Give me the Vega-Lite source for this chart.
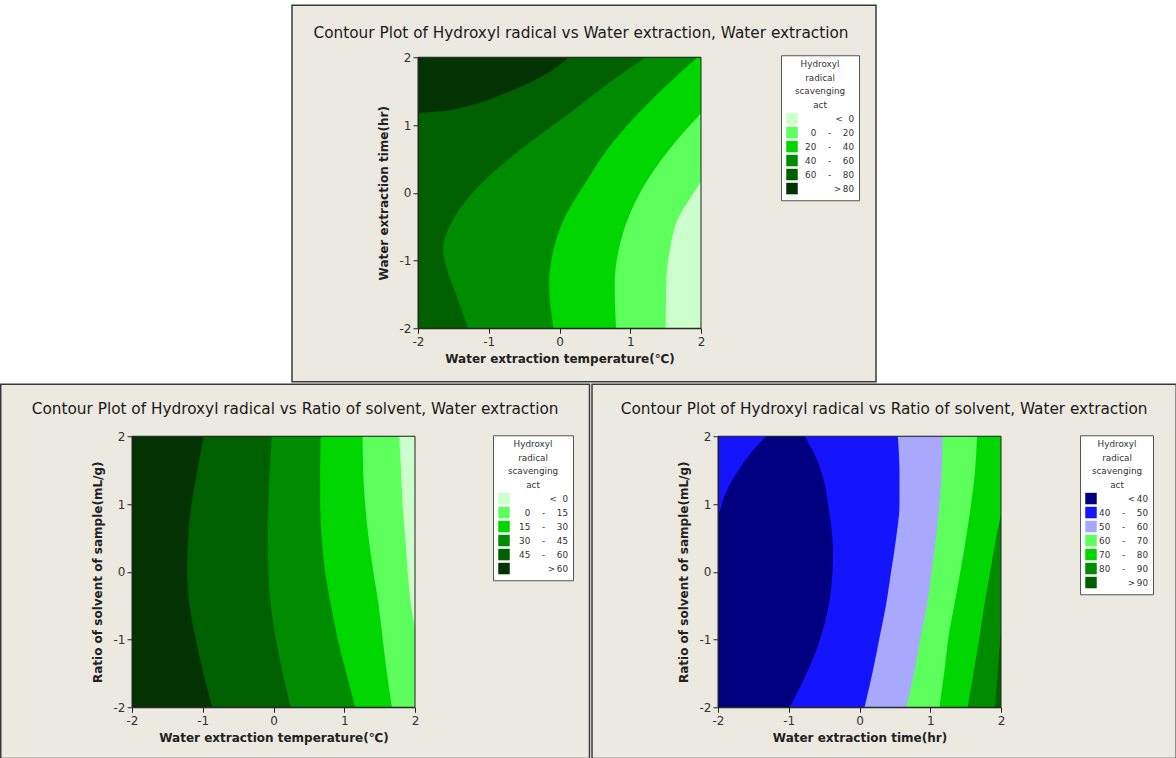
{
  "$schema": "https://vega.github.io/schema/vega-lite/v6.json",
  "background": "white",
  "padding": {"left": 0, "top": 4.25, "right": 0, "bottom": 0},
  "spacing": 0,
  "bounds": "full",
  "resolve": {"scale": {"color": "independent", "x": "independent", "y": "independent"}, "legend": {"color": "independent"}},
  "datasets": {
    "top": [
      {"lvl": ">80", "y": -2, "x": -2, "x2": 2}, {"lvl": ">80", "y": 2, "x": -2, "x2": 2},
      {"lvl": "60-80", "y": -2, "x": -2, "x2": 2}, {"lvl": "60-80", "y": 1.17, "x": -2, "x2": 2}, {"lvl": "60-80", "y": 1.198, "x": -1.716, "x2": 2}, {"lvl": "60-80", "y": 1.296, "x": -1.244, "x2": 2}, {"lvl": "60-80", "y": 1.469, "x": -0.771, "x2": 2}, {"lvl": "60-80", "y": 1.69, "x": -0.298, "x2": 2}, {"lvl": "60-80", "y": 1.838, "x": -0.061, "x2": 2}, {"lvl": "60-80", "y": 2, "x": 0.128, "x2": 2},
      {"lvl": "40-60", "y": -2, "x": -1.29, "x2": 2}, {"lvl": "40-60", "y": -1.5, "x": -1.46, "x2": 2}, {"lvl": "40-60", "y": -1.1, "x": -1.6, "x2": 2}, {"lvl": "40-60", "y": -0.844, "x": -1.645, "x2": 2}, {"lvl": "40-60", "y": -0.352, "x": -1.48, "x2": 2}, {"lvl": "40-60", "y": 0.14, "x": -1.1, "x2": 2}, {"lvl": "40-60", "y": 0.632, "x": -0.558, "x2": 2}, {"lvl": "40-60", "y": 1.124, "x": 0.08, "x2": 2}, {"lvl": "40-60", "y": 1.616, "x": 0.695, "x2": 2}, {"lvl": "40-60", "y": 2, "x": 1.215, "x2": 2},
      {"lvl": "20-40", "y": -2, "x": -0.085, "x2": 2}, {"lvl": "20-40", "y": -1.336, "x": -0.147, "x2": 2}, {"lvl": "20-40", "y": -0.844, "x": -0.085, "x2": 2}, {"lvl": "20-40", "y": -0.352, "x": 0.08, "x2": 2}, {"lvl": "20-40", "y": 0.14, "x": 0.364, "x2": 2}, {"lvl": "20-40", "y": 0.632, "x": 0.671, "x2": 2}, {"lvl": "20-40", "y": 1.124, "x": 1.073, "x2": 2}, {"lvl": "20-40", "y": 1.616, "x": 1.546, "x2": 2}, {"lvl": "20-40", "y": 2, "x": 1.95, "x2": 2},
      {"lvl": "0-20", "y": -2, "x": 0.799, "x2": 2}, {"lvl": "0-20", "y": -1.336, "x": 0.78, "x2": 2}, {"lvl": "0-20", "y": -0.844, "x": 0.837, "x2": 2}, {"lvl": "0-20", "y": -0.352, "x": 0.979, "x2": 2}, {"lvl": "0-20", "y": 0.14, "x": 1.215, "x2": 2}, {"lvl": "0-20", "y": 0.632, "x": 1.546, "x2": 2}, {"lvl": "0-20", "y": 1.173, "x": 2, "x2": 2},
      {"lvl": "<0", "y": -2, "x": 1.5, "x2": 2}, {"lvl": "<0", "y": -1.336, "x": 1.508, "x2": 2}, {"lvl": "<0", "y": -0.844, "x": 1.56, "x2": 2}, {"lvl": "<0", "y": -0.352, "x": 1.688, "x2": 2}, {"lvl": "<0", "y": -0.106, "x": 1.83, "x2": 2}, {"lvl": "<0", "y": 0.165, "x": 2, "x2": 2}
    ],
    "bl": [
      {"lvl": ">60", "y": -2, "x": -2, "x2": 2}, {"lvl": ">60", "y": 2, "x": -2, "x2": 2},
      {"lvl": "45-60", "y": 2, "x": -0.985, "x2": 2}, {"lvl": "45-60", "y": 1.483, "x": -1.079, "x2": 2}, {"lvl": "45-60", "y": 0.991, "x": -1.159, "x2": 2}, {"lvl": "45-60", "y": 0.499, "x": -1.207, "x2": 2}, {"lvl": "45-60", "y": 0.007, "x": -1.221, "x2": 2}, {"lvl": "45-60", "y": -0.485, "x": -1.188, "x2": 2}, {"lvl": "45-60", "y": -0.977, "x": -1.103, "x2": 2}, {"lvl": "45-60", "y": -1.469, "x": -0.999, "x2": 2}, {"lvl": "45-60", "y": -2, "x": -0.867, "x2": 2},
      {"lvl": "30-45", "y": 2, "x": -0.026, "x2": 2}, {"lvl": "30-45", "y": 1.483, "x": -0.054, "x2": 2}, {"lvl": "30-45", "y": 0.991, "x": -0.073, "x2": 2}, {"lvl": "30-45", "y": 0.499, "x": -0.083, "x2": 2}, {"lvl": "30-45", "y": 0.007, "x": -0.073, "x2": 2}, {"lvl": "30-45", "y": -0.485, "x": -0.04, "x2": 2}, {"lvl": "30-45", "y": -0.977, "x": 0.031, "x2": 2}, {"lvl": "30-45", "y": -1.469, "x": 0.125, "x2": 2}, {"lvl": "30-45", "y": -2, "x": 0.243, "x2": 2},
      {"lvl": "15-30", "y": 2, "x": 0.668, "x2": 2}, {"lvl": "15-30", "y": 1.483, "x": 0.659, "x2": 2}, {"lvl": "15-30", "y": 0.991, "x": 0.659, "x2": 2}, {"lvl": "15-30", "y": 0.499, "x": 0.682, "x2": 2}, {"lvl": "15-30", "y": 0.007, "x": 0.73, "x2": 2}, {"lvl": "15-30", "y": -0.485, "x": 0.81, "x2": 2}, {"lvl": "15-30", "y": -0.977, "x": 0.904, "x2": 2}, {"lvl": "15-30", "y": -1.469, "x": 1.022, "x2": 2}, {"lvl": "15-30", "y": -2, "x": 1.155, "x2": 2},
      {"lvl": "0-15", "y": 2, "x": 1.259, "x2": 2}, {"lvl": "0-15", "y": 1.483, "x": 1.268, "x2": 2}, {"lvl": "0-15", "y": 0.991, "x": 1.296, "x2": 2}, {"lvl": "0-15", "y": 0.499, "x": 1.344, "x2": 2}, {"lvl": "0-15", "y": 0.007, "x": 1.41, "x2": 2}, {"lvl": "0-15", "y": -0.485, "x": 1.485, "x2": 2}, {"lvl": "0-15", "y": -0.977, "x": 1.542, "x2": 2}, {"lvl": "0-15", "y": -1.469, "x": 1.599, "x2": 2}, {"lvl": "0-15", "y": -2, "x": 1.674, "x2": 2},
      {"lvl": "<0", "y": 2, "x": 1.778, "x2": 2}, {"lvl": "<0", "y": 1.483, "x": 1.802, "x2": 2}, {"lvl": "<0", "y": 0.991, "x": 1.825, "x2": 2}, {"lvl": "<0", "y": 0.499, "x": 1.863, "x2": 2}, {"lvl": "<0", "y": 0.007, "x": 1.896, "x2": 2}, {"lvl": "<0", "y": -0.485, "x": 1.943, "x2": 2}, {"lvl": "<0", "y": -0.829, "x": 2, "x2": 2}
    ],
    "br": [
      {"lvl": "40-50", "y": -2, "x": -2, "x2": 2}, {"lvl": "40-50", "y": 2, "x": -2, "x2": 2},
      {"lvl": "<40", "y": -2, "x": -2, "x2": -0.988}, {"lvl": "<40", "y": -1.617, "x": -2, "x2": -0.8}, {"lvl": "<40", "y": -1.223, "x": -2, "x2": -0.635}, {"lvl": "<40", "y": -0.731, "x": -2, "x2": -0.485}, {"lvl": "<40", "y": -0.239, "x": -2, "x2": -0.4}, {"lvl": "<40", "y": 0.253, "x": -2, "x2": -0.376}, {"lvl": "<40", "y": 0.745, "x": -2, "x2": -0.409}, {"lvl": "<40", "y": 0.795, "x": -2, "x2": -0.416}, {"lvl": "<40", "y": 0.942, "x": -1.962, "x2": -0.437}, {"lvl": "<40", "y": 1.237, "x": -1.859, "x2": -0.48}, {"lvl": "<40", "y": 1.483, "x": -1.718, "x2": -0.541}, {"lvl": "<40", "y": 1.729, "x": -1.553, "x2": -0.635}, {"lvl": "<40", "y": 2, "x": -1.318, "x2": -0.776},
      {"lvl": "50-60", "y": 2, "x": 0.541, "x2": 2}, {"lvl": "50-60", "y": 1.483, "x": 0.565, "x2": 2}, {"lvl": "50-60", "y": 0.991, "x": 0.565, "x2": 2}, {"lvl": "50-60", "y": 0.499, "x": 0.518, "x2": 2}, {"lvl": "50-60", "y": 0.007, "x": 0.447, "x2": 2}, {"lvl": "50-60", "y": -0.485, "x": 0.376, "x2": 2}, {"lvl": "50-60", "y": -0.977, "x": 0.282, "x2": 2}, {"lvl": "50-60", "y": -1.469, "x": 0.188, "x2": 2}, {"lvl": "50-60", "y": -2, "x": 0.071, "x2": 2},
      {"lvl": "60-70", "y": 2, "x": 1.176, "x2": 2}, {"lvl": "60-70", "y": 1.483, "x": 1.162, "x2": 2}, {"lvl": "60-70", "y": 0.991, "x": 1.129, "x2": 2}, {"lvl": "60-70", "y": 0.499, "x": 1.082, "x2": 2}, {"lvl": "60-70", "y": 0.007, "x": 1.021, "x2": 2}, {"lvl": "60-70", "y": -0.485, "x": 0.955, "x2": 2}, {"lvl": "60-70", "y": -0.977, "x": 0.861, "x2": 2}, {"lvl": "60-70", "y": -1.469, "x": 0.776, "x2": 2}, {"lvl": "60-70", "y": -2, "x": 0.659, "x2": 2},
      {"lvl": "70-80", "y": 2, "x": 1.661, "x2": 2}, {"lvl": "70-80", "y": 1.483, "x": 1.633, "x2": 2}, {"lvl": "70-80", "y": 0.991, "x": 1.576, "x2": 2}, {"lvl": "70-80", "y": 0.499, "x": 1.506, "x2": 2}, {"lvl": "70-80", "y": 0.007, "x": 1.426, "x2": 2}, {"lvl": "70-80", "y": -0.485, "x": 1.341, "x2": 2}, {"lvl": "70-80", "y": -0.977, "x": 1.256, "x2": 2}, {"lvl": "70-80", "y": -1.469, "x": 1.2, "x2": 2}, {"lvl": "70-80", "y": -2, "x": 1.129, "x2": 2},
      {"lvl": "80-90", "y": 0.85, "x": 2, "x2": 2}, {"lvl": "80-90", "y": 0.499, "x": 1.929, "x2": 2}, {"lvl": "80-90", "y": 0.007, "x": 1.849, "x2": 2}, {"lvl": "80-90", "y": -0.485, "x": 1.765, "x2": 2}, {"lvl": "80-90", "y": -0.977, "x": 1.694, "x2": 2}, {"lvl": "80-90", "y": -1.469, "x": 1.614, "x2": 2}, {"lvl": "80-90", "y": -2, "x": 1.529, "x2": 2},
      {"lvl": ">90", "y": -0.83, "x": 2, "x2": 2}, {"lvl": ">90", "y": -1.223, "x": 1.972, "x2": 2}, {"lvl": ">90", "y": -1.617, "x": 1.944, "x2": 2}, {"lvl": ">90", "y": -2, "x": 1.915, "x2": 2}
    ]
  },
  "vconcat": [
    {
      "spacing": 0,
      "bounds": "full",
      "resolve": {"scale": {"color": "independent", "x": "independent", "y": "independent"}, "legend": {"color": "independent"}},
      "hconcat": [
        {"width": 159, "height": 1, "data": {"values": []}, "mark": {"type": "point", "opacity": 0}},
        {
          "width": 283, "height": 271,
          "title": {"text": "Contour Plot of Hydroxyl radical vs Water extraction, Water extraction", "offset": -36.75, "dx": -3},
          "layer": [
            {"data": {"values": [{}]}, "mark": {"type": "rect", "fill": "#ECE9E1", "stroke": "#3a3a3a", "strokeWidth": 1.5},
             "encoding": {
               "x": {"datum": -3.7809, "type": "quantitative", "scale": {"domain": [-2, 2], "nice": false, "zero": false}, "axis": {"title": "Water extraction temperature(℃)", "values": [-2, -1, 0, 1, 2], "zindex": 1}},
               "x2": {"datum": 4.4735},
               "y": {"datum": 2.7675, "type": "quantitative", "scale": {"domain": [-2, 2], "nice": false, "zero": false}, "axis": {"title": "Water extraction time(hr)", "values": [-2, -1, 0, 1, 2], "zindex": 1}},
               "y2": {"datum": -2.7897}}},
            {"data": {"name": "top"}, "mark": {"type": "area", "orient": "horizontal", "interpolate": "monotone", "opacity": 1},
             "encoding": {
               "y": {"field": "y", "type": "quantitative", "scale": {"domain": [-2, 2], "nice": false, "zero": false}, "axis": {"title": "Water extraction time(hr)", "values": [-2, -1, 0, 1, 2], "zindex": 1}},
               "x": {"field": "x", "type": "quantitative", "stack": null, "scale": {"domain": [-2, 2], "nice": false, "zero": false}, "axis": {"title": "Water extraction temperature(℃)", "values": [-2, -1, 0, 1, 2], "zindex": 1}},
               "x2": {"field": "x2"},
               "color": {"field": "lvl", "type": "nominal", "title": ["Hydroxyl", "radical", "scavenging", "act"],
                 "scale": {"domain": ["<0", "0-20", "20-40", "40-60", "60-80", ">80"], "range": ["#CCFFCC", "#5CFF5C", "#00D700", "#008C00", "#006000", "#033303"]},
                 "legend": {"orient": "none", "direction": "vertical", "legendX": 363, "legendY": -2, "labelOffset": 56,
                   "labelExpr": "replace(replace(replace(datum.label, '-', '\u2003\u2004-\u2003\u2004'), '<', '<\u2007'), '>', '>\u2009')"}}}},
            {"data": {"values": [{}]}, "mark": {"type": "rect", "filled": false, "stroke": "#222222", "strokeWidth": 1},
             "encoding": {
               "x": {"datum": -2, "type": "quantitative", "scale": {"domain": [-2, 2], "nice": false, "zero": false}, "axis": {"title": "Water extraction temperature(℃)", "values": [-2, -1, 0, 1, 2], "zindex": 1}},
               "x2": {"datum": 2},
               "y": {"datum": -2, "type": "quantitative", "scale": {"domain": [-2, 2], "nice": false, "zero": false}, "axis": {"title": "Water extraction time(hr)", "values": [-2, -1, 0, 1, 2], "zindex": 1}},
               "y2": {"datum": 2}}}
          ]
        }
      ]
    },
    {
      "spacing": 0,
      "bounds": "full",
      "resolve": {"scale": {"color": "independent", "x": "independent", "y": "independent"}, "legend": {"color": "independent"}},
      "hconcat": [
        {
          "width": 283, "height": 271,
          "title": {"text": "Contour Plot of Hydroxyl radical vs Ratio of solvent, Water extraction", "offset": -34.25},
          "layer": [
            {"data": {"values": [{}]}, "mark": {"type": "rect", "fill": "#ECE9E1", "stroke": "#3a3a3a", "strokeWidth": 1.5},
             "encoding": {
               "x": {"datum": -3.8551, "type": "quantitative", "scale": {"domain": [-2, 2], "nice": false, "zero": false}, "axis": {"title": "Water extraction temperature(℃)", "values": [-2, -1, 0, 1, 2], "zindex": 1}},
               "x2": {"datum": 4.4664},
               "y": {"datum": 2.7675, "type": "quantitative", "scale": {"domain": [-2, 2], "nice": false, "zero": false}, "axis": {"title": "Ratio of solvent of sample(mL/g)", "values": [-2, -1, 0, 1, 2], "zindex": 1}},
               "y2": {"datum": -2.7565}}},
            {"data": {"name": "bl"}, "mark": {"type": "area", "orient": "horizontal", "interpolate": "monotone", "opacity": 1},
             "encoding": {
               "y": {"field": "y", "type": "quantitative", "scale": {"domain": [-2, 2], "nice": false, "zero": false}, "axis": {"title": "Ratio of solvent of sample(mL/g)", "values": [-2, -1, 0, 1, 2], "zindex": 1}},
               "x": {"field": "x", "type": "quantitative", "stack": null, "scale": {"domain": [-2, 2], "nice": false, "zero": false}, "axis": {"title": "Water extraction temperature(℃)", "values": [-2, -1, 0, 1, 2], "zindex": 1}},
               "x2": {"field": "x2"},
               "color": {"field": "lvl", "type": "nominal", "title": ["Hydroxyl", "radical", "scavenging", "act"],
                 "scale": {"domain": ["<0", "0-15", "15-30", "30-45", "45-60", ">60"], "range": ["#CCFFCC", "#5CFF5C", "#00D700", "#008C00", "#006000", "#033303"]},
                 "legend": {"orient": "none", "direction": "vertical", "legendX": 361, "legendY": -1, "labelOffset": 58,
                   "labelExpr": "replace(replace(replace(datum.label, '-', '\u2003\u2004-\u2003\u2004'), '<', '<\u2007'), '>', '>\u2009')"}}}},
            {"data": {"values": [{}]}, "mark": {"type": "rect", "filled": false, "stroke": "#222222", "strokeWidth": 1},
             "encoding": {
               "x": {"datum": -2, "type": "quantitative", "scale": {"domain": [-2, 2], "nice": false, "zero": false}, "axis": {"title": "Water extraction temperature(℃)", "values": [-2, -1, 0, 1, 2], "zindex": 1}},
               "x2": {"datum": 2},
               "y": {"datum": -2, "type": "quantitative", "scale": {"domain": [-2, 2], "nice": false, "zero": false}, "axis": {"title": "Ratio of solvent of sample(mL/g)", "values": [-2, -1, 0, 1, 2], "zindex": 1}},
               "y2": {"datum": 2}}}
          ]
        },
        {
          "width": 283, "height": 271,
          "title": {"text": "Contour Plot of Hydroxyl radical vs Ratio of solvent, Water extraction", "offset": -34.25},
          "layer": [
            {"data": {"values": [{}]}, "mark": {"type": "rect", "fill": "#ECE9E1", "stroke": "#3a3a3a", "strokeWidth": 1.5},
             "encoding": {
               "x": {"datum": -3.7809, "type": "quantitative", "scale": {"domain": [-2, 2], "nice": false, "zero": false}, "axis": {"title": "Water extraction time(hr)", "values": [-2, -1, 0, 1, 2], "zindex": 1}},
               "x2": {"datum": 4.477},
               "y": {"datum": 2.7675, "type": "quantitative", "scale": {"domain": [-2, 2], "nice": false, "zero": false}, "axis": {"title": "Ratio of solvent of sample(mL/g)", "values": [-2, -1, 0, 1, 2], "zindex": 1}},
               "y2": {"datum": -2.7565}}},
            {"data": {"name": "br"}, "mark": {"type": "area", "orient": "horizontal", "interpolate": "monotone", "opacity": 1},
             "encoding": {
               "y": {"field": "y", "type": "quantitative", "scale": {"domain": [-2, 2], "nice": false, "zero": false}, "axis": {"title": "Ratio of solvent of sample(mL/g)", "values": [-2, -1, 0, 1, 2], "zindex": 1}},
               "x": {"field": "x", "type": "quantitative", "stack": null, "scale": {"domain": [-2, 2], "nice": false, "zero": false}, "axis": {"title": "Water extraction time(hr)", "values": [-2, -1, 0, 1, 2], "zindex": 1}},
               "x2": {"field": "x2"},
               "color": {"field": "lvl", "type": "nominal", "title": ["Hydroxyl", "radical", "scavenging", "act"],
                 "scale": {"domain": ["<40", "40-50", "50-60", "60-70", "70-80", "80-90", ">90"], "range": ["#000080", "#1414FF", "#A8A8FF", "#5CFF5C", "#00D700", "#008C00", "#006000"]},
                 "legend": {"orient": "none", "direction": "vertical", "legendX": 362, "legendY": -1, "labelOffset": 51,
                   "labelExpr": "replace(replace(replace(datum.label, '-', '\u2003\u2004-\u2003\u2004'), '<', '<\u2009'), '>', '>\u2009')"}}}},
            {"data": {"values": [{}]}, "mark": {"type": "rect", "filled": false, "stroke": "#222222", "strokeWidth": 1},
             "encoding": {
               "x": {"datum": -2, "type": "quantitative", "scale": {"domain": [-2, 2], "nice": false, "zero": false}, "axis": {"title": "Water extraction time(hr)", "values": [-2, -1, 0, 1, 2], "zindex": 1}},
               "x2": {"datum": 2},
               "y": {"datum": -2, "type": "quantitative", "scale": {"domain": [-2, 2], "nice": false, "zero": false}, "axis": {"title": "Ratio of solvent of sample(mL/g)", "values": [-2, -1, 0, 1, 2], "zindex": 1}},
               "y2": {"datum": 2}}}
          ]
        }
      ]
    }
  ],
  "config": {
    "view": {"stroke": null},
    "font": "DejaVu Sans",
    "axis": {"labelFont": "DejaVu Sans", "labelFontSize": 12, "labelColor": "#333333", "titleFont": "DejaVu Sans", "titleFontSize": 12, "titleFontWeight": "bold", "titleColor": "#222222", "domainColor": "#222222", "tickColor": "#222222", "tickSize": 5, "labelPadding": 3, "grid": false, "labelFlush": false,
      "labelExpr": "datum.value < 0 ? '-' + (-datum.value) : '' + datum.value"},
    "axisX": {"titlePadding": 6},
    "axisY": {"titlePadding": 9, "labelPadding": 2},
    "legend": {"titleFont": "DejaVu Sans", "titleFontSize": 8.8, "titleFontWeight": "normal", "titleColor": "#333333", "titleAlign": "center", "titleAnchor": "middle", "titleLineHeight": 13.5, "titlePadding": 3,
      "labelFont": "DejaVu Sans", "labelFontSize": 8.8, "labelColor": "#333333", "labelAlign": "right", "labelLimit": 300,
      "symbolType": "square", "symbolSize": 132, "symbolStrokeWidth": 0, "symbolOpacity": 1, "rowPadding": 2, "padding": 5, "strokeColor": "#555555", "fillColor": "#FFFFFF"},
    "title": {"font": "DejaVu Sans", "fontSize": 15.3, "fontWeight": "normal", "color": "#1a1a1a", "frame": "bounds", "anchor": "middle", "baseline": "middle"}
  }
}
